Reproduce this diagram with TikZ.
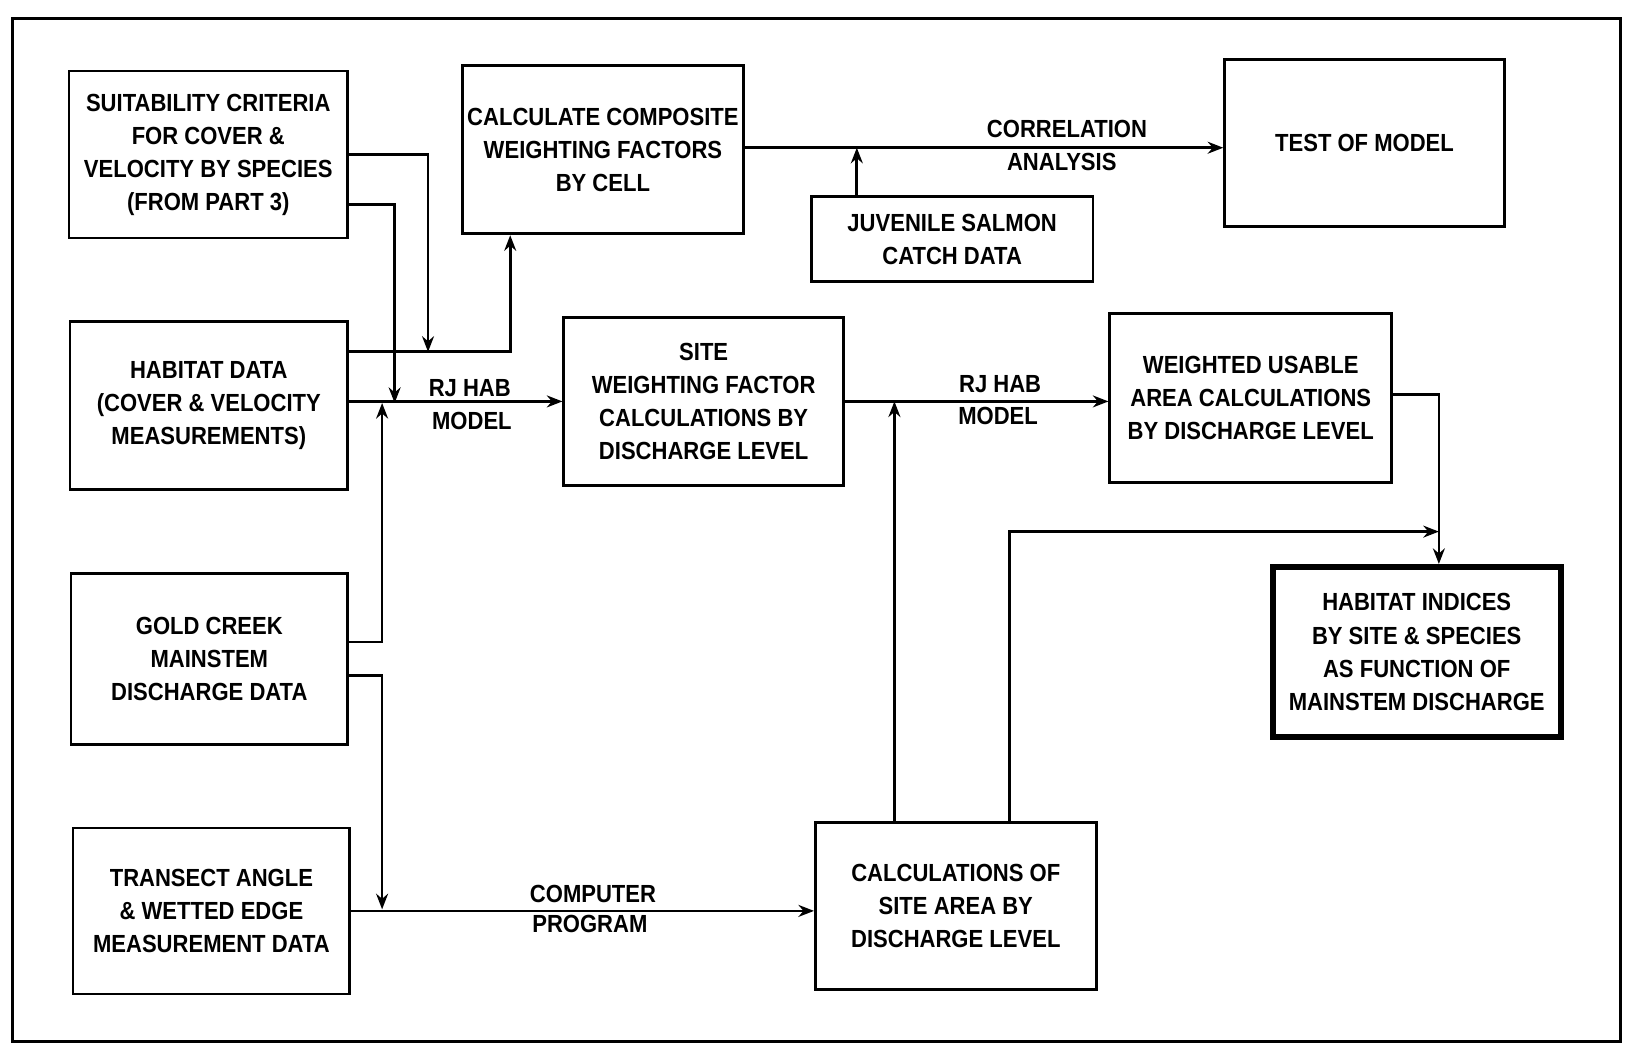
\documentclass[tikz,border=0pt]{standalone}
\usepackage{fontspec}
\setmainfont{Liberation Sans}[FakeStretch=0.89]
\usetikzlibrary{calc,arrows.meta}
\begin{document}
\begin{tikzpicture}[x=0.02cm,y=-0.02cm,
  txt/.style={font=\bfseries\fontsize{13.5}{18}\selectfont},
  box/.style={txt,draw,line width=1.5pt,align=center,inner sep=0pt},
  lbl/.style={txt,inner sep=0pt},
  conn/.style={line width=1.5pt},
  arr/.style={conn,-{Stealth[length=8.5pt,width=6.5pt]}}]
\useasboundingbox (0,0) rectangle (1568,1003);
\draw[line width=1.7pt] (12,18) rectangle (1552,998);
% boxes
\node[box,minimum width=5.34cm,minimum height=3.2cm] (suit) at (199.5,148) {SUITABILITY CRITERIA\\FOR COVER \& \\VELOCITY BY SPECIES\\(FROM PART 3)};
\node[box,minimum width=5.38cm,minimum height=3.22cm] (calc) at (577.5,143.5) {CALCULATE COMPOSITE\\WEIGHTING FACTORS\\BY CELL};
\node[box,minimum width=5.36cm,minimum height=3.2cm] (test) at (1307,137) {TEST OF MODEL};
\node[box,minimum width=5.4cm,minimum height=1.64cm] (juv) at (912,229) {JUVENILE SALMON\\CATCH DATA};
\node[box,minimum width=5.32cm,minimum height=3.22cm] (hab) at (200,388.5) {HABITAT DATA\\(COVER \& VELOCITY\\MEASUREMENTS)};
\node[box,minimum width=5.36cm,minimum height=3.22cm] (site) at (674,384.5) {SITE\\WEIGHTING FACTOR\\CALCULATIONS BY\\DISCHARGE LEVEL};
\node[box,minimum width=5.4cm,minimum height=3.24cm] (wua) at (1198,381) {WEIGHTED USABLE\\AREA CALCULATIONS\\BY DISCHARGE LEVEL};
\node[box,minimum width=5.3cm,minimum height=3.28cm] (gold) at (200.5,631) {GOLD CREEK\\MAINSTEM\\DISCHARGE DATA};
\node[box,line width=3.2pt,minimum width=5.52cm,minimum height=3.26cm] (hi) at (1357,624.5) {HABITAT INDICES\\BY SITE \& SPECIES\\AS FUNCTION OF\\MAINSTEM DISCHARGE};
\node[box,minimum width=5.3cm,minimum height=3.18cm] (trans) at (202.5,872.5) {TRANSECT ANGLE\\\& WETTED EDGE\\MEASUREMENT DATA};
\node[box,minimum width=5.38cm,minimum height=3.2cm] (area) at (915.5,868) {CALCULATIONS OF\\SITE AREA BY\\DISCHARGE LEVEL};
% labels
\node[lbl] (l1a) at (450,372) {RJ HAB};
\node[lbl] (l1b) at (452,403) {MODEL};
\node[lbl] (l2a) at (958,368) {RJ HAB};
\node[lbl] (l2b) at (956,398) {MODEL};
\node[lbl] (l3a) at (1022,124) {CORRELATION};
\node[lbl] (l3b) at (1017,155) {ANALYSIS};
\node[lbl] (l4a) at (568,856) {COMPUTER};
\node[lbl] (l4b) at (565,885) {PROGRAM};
% junction coordinates
\coordinate (hu) at ($(hab.east)+(0,-51.5)$);
\coordinate (a1) at (410,337);
\coordinate (a2) at (378,386);
\coordinate (g1) at (366,386);
\coordinate (g2) at (366,871);
\coordinate (cb) at ($(calc.south west)+(47,0)$);
\coordinate (ce) at ($(calc.east)+(0,-2)$);
\coordinate (jt) at ($(juv.north west)+(45,0)$);
\coordinate (at1) at ($(area.north west)+(77,0)$);
\coordinate (at2) at ($(area.north west)+(187,0)$);
\coordinate (ht) at ($(hi.north west)+(162,0)$);
\coordinate (m) at ($(hi.north west)+(162,-31)$);
% connectors
\draw[arr] (suit.east) -| (a1);
\draw[arr] ($(suit.east)+(0,48)$) -| (a2);
\draw[arr] (hu) -| (cb);
\draw[arr] (hab.east |- site.west) -- (site.west);
\draw[arr] ($(gold.east)+(0,-16)$) -| (g1);
\draw[arr] ($(gold.east)+(0,16)$) -| (g2);
\draw[arr] (trans.east) -- (trans.east -| area.west);
\draw[arr] (at1) -- (at1 |- site.east);
\draw[arr] (site.east) -- (site.east -| wua.west);
\draw[arr] (at2) |- (m);
\draw[arr] ($(wua.east)+(0,-3)$) -| (ht);
\draw[arr] (ce) -- (ce -| test.west);
\draw[arr] (jt) -- (jt |- ce);
\end{tikzpicture}
\end{document}
